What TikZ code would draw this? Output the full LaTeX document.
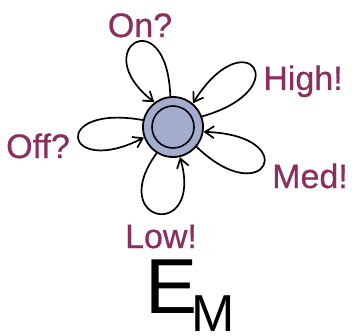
\documentclass[tikz,border=0pt]{standalone}
\usepackage{fontspec}
\setmainfont{Liberation Sans}
\newfontfamily\labelfont[FakeBold=0.6]{Liberation Sans}
\usetikzlibrary{arrows.meta,positioning}
\definecolor{actioncol}{RGB}{140,45,95}
\definecolor{statecol}{RGB}{164,172,206}
\tikzset{
    statenode/.style={
        circle,                   % estado del autómata
        draw=black,
        line width=1.8pt,
        fill=statecol,
        minimum size=60pt,
        inner sep=0pt
    },
    innerring/.style={
        circle,
        draw=black,
        line width=1.6pt,
        minimum size=42pt,        % anillo interior (estado final)
        inner sep=0pt
    },
    actionlabel/.style={
        text=actioncol,
        font=\labelfont\fontsize{34}{36}\selectfont,
        inner sep=0pt,
        anchor=base
    },
    selfloop/.style={
        draw=black,
        line width=1.7pt,
        -{Straight Barb[length=9pt,width=12pt]}
    }
}
\begin{document}
\begin{tikzpicture}[x=1pt,y=1pt]
    \useasboundingbox (0,0) rectangle (352,335);

    \node[statenode] (st) at (173,208) {};
    \node[innerring] (stin) at (st) {};

    % bucles sobre el estado
    \draw[selfloop] (st.95) .. controls +(92:97) and +(142:87) .. (st.127);
    \draw[selfloop] (st.20) .. controls +(16:100) and +(58:100) .. (st.50);
    \draw[selfloop] (st.-40) .. controls +(-44:95) and +(-2:100) .. (st.-9);
    \draw[selfloop] (st.-122) .. controls +(-126:88) and +(-74:88) .. (st.-77);
    \draw[selfloop] (st.167) .. controls +(170:95) and +(207:90) .. (st.200);

    \node[actionlabel] (on) at (140,298) {On?};
    \node[actionlabel] (high) at (303,245) {High!};
    \node[actionlabel] (med) at (310,147) {Med!};
    \node[actionlabel] (off) at (38,177) {Off?};
    \node[actionlabel] (low) at (161,87) {Low!};

    \node[anchor=base, inner sep=0pt, font=\fontsize{78}{80}\selectfont] (em) at (172,22) {E};
    \node[anchor=base, inner sep=0pt, font=\fontsize{52}{54}\selectfont] (emsub) at (213,4) {M};
\end{tikzpicture}
\end{document}
